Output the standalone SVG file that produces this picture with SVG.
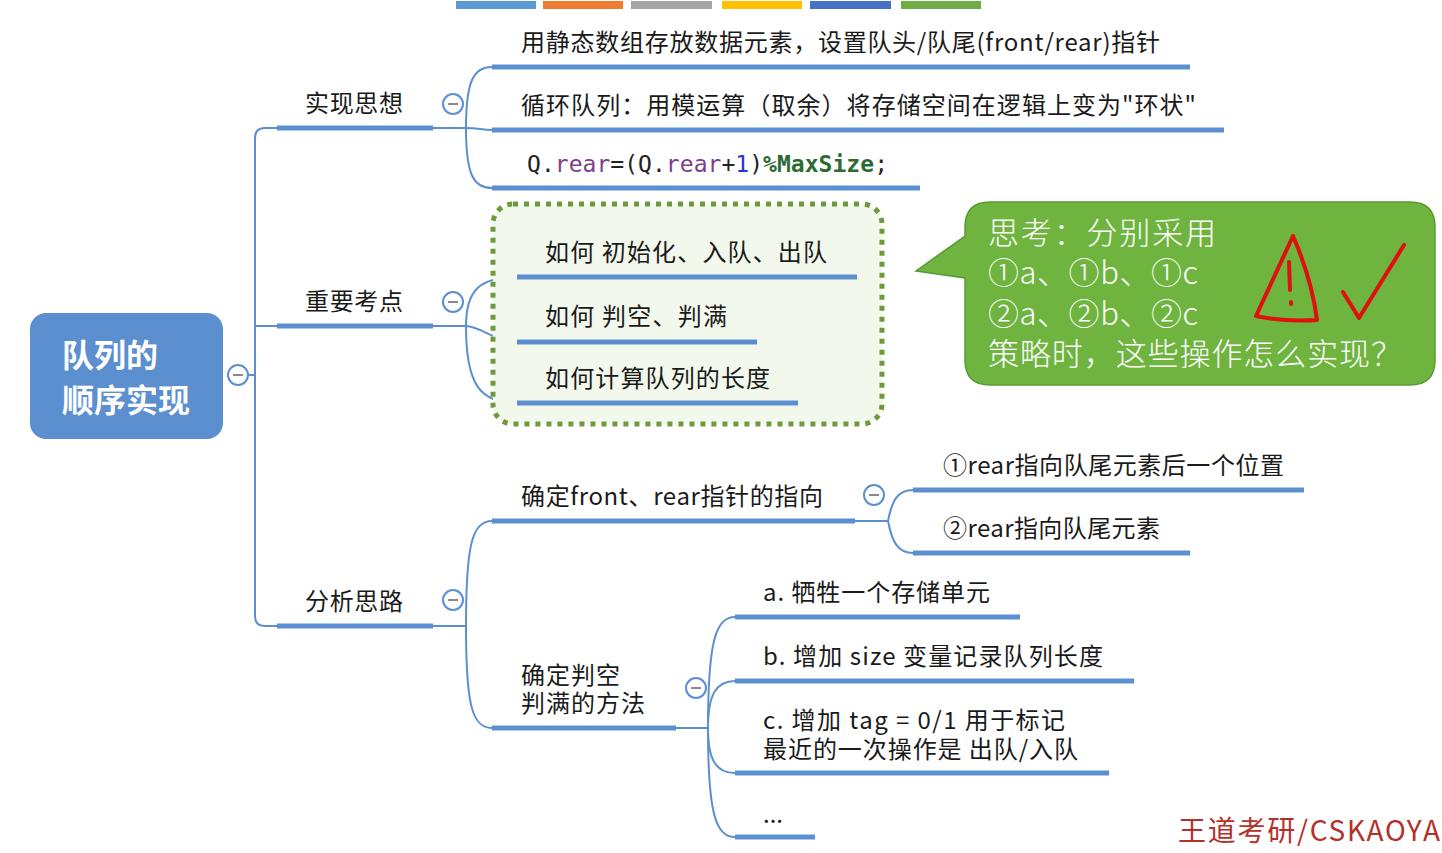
<svg xmlns="http://www.w3.org/2000/svg" width="1442" height="853" viewBox="0 0 1442 853">
<style>
.t{font-family:"Noto Sans CJK SC","Noto Sans",sans-serif;font-size:24px;fill:#1a1a1a}
.code{font-family:"DejaVu Sans Mono","Liberation Mono",monospace;font-size:23px;fill:#222}
.ul{stroke:#5b8fd0;stroke-width:5;fill:none}
.cn{stroke:#5b8fd0;stroke-width:2;fill:none}
.col circle{fill:#fff;stroke:#5b8fd0;stroke-width:2}
.col line{stroke:#8a8a8a;stroke-width:2}
.cal{font-family:"Noto Sans CJK SC","Noto Sans",sans-serif;font-size:31px;fill:#fff;font-weight:300}
.red{stroke:#e0100f;stroke-width:4;fill:none;stroke-linecap:round;stroke-linejoin:round}
</style>
<rect width="1442" height="853" fill="#fff"/>
<g id="tabs">
<rect x="456" y="1" width="80" height="8" fill="#5b9bd5"/>
<rect x="543" y="1" width="80" height="8" fill="#ed7d31"/>
<rect x="631" y="1" width="81" height="8" fill="#a5a5a5"/>
<rect x="722" y="1" width="80" height="8" fill="#ffc000"/>
<rect x="810" y="1" width="81" height="8" fill="#4472c4"/>
<rect x="901" y="1" width="80" height="8" fill="#70ad47"/>
</g>
<g id="connectors">
<path class="cn" d="M248,375 H255"/>
<path class="cn" d="M277,128 H265 Q255,128 255,138 V616 Q255,626 265,626 H277"/>
<path class="cn" d="M255,326 H277"/>
<path class="cn" d="M433,128 H466"/>
<path class="cn" d="M466,128 C466,80 474,67 492,67"/>
<path class="cn" d="M466,128 C478,128 482,130 492,130"/>
<path class="cn" d="M466,128 C466,176 474,188 492,188"/>
<path class="cn" d="M433,326 H466"/>
<path class="cn" d="M466,326 C466,290 480,277 517,277"/>
<path class="cn" d="M466,326 C480,326 495,342 517,342"/>
<path class="cn" d="M466,326 C466,385 480,403 517,403"/>
<path class="cn" d="M433,626 H466"/>
<path class="cn" d="M466,626 C466,545 472,521 492,521"/>
<path class="cn" d="M466,626 C466,705 472,728 492,728"/>
<path class="cn" d="M855,521 H888"/>
<path class="cn" d="M888,521 C892,500 898,490 913,490"/>
<path class="cn" d="M888,521 C892,542 898,553 913,553"/>
<path class="cn" d="M676,728 H708"/>
<path class="cn" d="M708,728 C708,640 716,617 735,617"/>
<path class="cn" d="M708,728 C708,695 716,681 735,681"/>
<path class="cn" d="M708,728 C708,760 716,773 735,773"/>
<path class="cn" d="M708,728 C708,815 716,837 735,837"/>
</g>
<g id="root">
<rect x="30" y="313" width="193" height="126" rx="16" fill="#5b8fd0"/>
<text font-family="Noto Sans CJK SC,sans-serif" font-size="32" font-weight="bold" fill="#fff"><tspan x="62" y="367">队列的</tspan><tspan x="62" y="412">顺序实现</tspan></text>
<g class="col"><circle cx="238" cy="375" r="10"/><line x1="233" y1="375" x2="243" y2="375"/></g>
</g>
<g id="n-shixian">
<line class="ul" x1="277" y1="128" x2="433" y2="128"/>
<text class="t" x="305" y="112" textLength="98">实现思想</text>
<g class="col"><circle cx="453" cy="104" r="10"/><line x1="448" y1="104" x2="458" y2="104"/></g>
</g>
<g id="n-s1">
<line class="ul" x1="492" y1="67" x2="1190" y2="67"/>
<text class="t" x="521" y="51" textLength="639">用静态数组存放数据元素，设置队头/队尾(front/rear)指针</text>
</g>
<g id="n-s2">
<line class="ul" x1="492" y1="130" x2="1224" y2="130"/>
<text class="t" x="521" y="114" textLength="675">循环队列：用模运算（取余）将存储空间在逻辑上变为"环状"</text>
</g>
<g id="n-s3">
<line class="ul" x1="492" y1="188" x2="920" y2="188"/>
<text class="code" x="527" y="172" textLength="361">Q.<tspan fill="#7b3f8c">rear</tspan>=(Q.<tspan fill="#7b3f8c">rear</tspan>+<tspan fill="#2b35d6">1</tspan>)<tspan fill="#2d6b35" font-weight="bold">%MaxSize</tspan>;</text>
</g>
<g id="box">
<rect x="493" y="204" width="389" height="220" rx="20" fill="#f3f8ec" stroke="#6f9a3c" stroke-width="5" stroke-dasharray="5 6"/>
</g>
<g id="n-zhongyao">
<line class="ul" x1="277" y1="326" x2="433" y2="326"/>
<text class="t" x="305" y="310" textLength="98">重要考点</text>
<g class="col"><circle cx="453" cy="302" r="10"/><line x1="448" y1="302" x2="458" y2="302"/></g>
</g>
<g id="n-z1">
<line class="ul" x1="517" y1="277" x2="857" y2="277"/>
<text class="t" x="545" y="261" textLength="282">如何 初始化、入队、出队</text>
</g>
<g id="n-z2">
<line class="ul" x1="517" y1="342" x2="757" y2="342"/>
<text class="t" x="545" y="325" textLength="182">如何 判空、判满</text>
</g>
<g id="n-z3">
<line class="ul" x1="517" y1="403" x2="798" y2="403"/>
<text class="t" x="545" y="387" textLength="225">如何计算队列的长度</text>
</g>
<g id="callout">
<path d="M990,202 H1410 Q1435,202 1435,227 V360 Q1435,385 1410,385 H990 Q965,385 965,360 V278 L916,271 L965,236 V227 Q965,202 990,202 Z" fill="#6fb43f" stroke="#5a9a33" stroke-width="1.5"/>
<text class="cal"><tspan x="988" y="244" textLength="228">思考：分别采用</tspan><tspan x="988" y="284" textLength="210">①a、①b、①c</tspan><tspan x="988" y="325" textLength="210">②a、②b、②c</tspan><tspan x="988" y="365" textLength="414">策略时，这些操作怎么实现？</tspan></text>
<path class="red" d="M1293,236 Q1275,275 1256,316 Q1285,322 1317,320 Q1312,280 1293,236"/>
<path class="red" d="M1289,262 L1290,290"/>
<path class="red" d="M1291,302 L1291,304"/>
<path class="red" d="M1343,292 L1359,318 L1404,245"/>
</g>
<g id="n-fenxi">
<line class="ul" x1="277" y1="626" x2="433" y2="626"/>
<text class="t" x="305" y="610" textLength="98">分析思路</text>
<g class="col"><circle cx="453" cy="600" r="10"/><line x1="448" y1="600" x2="458" y2="600"/></g>
</g>
<g id="n-f1">
<line class="ul" x1="492" y1="521" x2="855" y2="521"/>
<text class="t" x="521" y="505" textLength="302">确定front、rear指针的指向</text>
<g class="col"><circle cx="874" cy="495" r="10"/><line x1="869" y1="495" x2="879" y2="495"/></g>
</g>
<g id="n-f1a">
<line class="ul" x1="913" y1="490" x2="1304" y2="490"/>
<text class="t" x="943" y="474" textLength="341">①rear指向队尾元素后一个位置</text>
</g>
<g id="n-f1b">
<line class="ul" x1="913" y1="553" x2="1190" y2="553"/>
<text class="t" x="943" y="537" textLength="217">②rear指向队尾元素</text>
</g>
<g id="n-f2">
<line class="ul" x1="492" y1="728" x2="676" y2="728"/>
<text class="t"><tspan x="521" y="684" textLength="99">确定判空</tspan><tspan x="521" y="712" textLength="124">判满的方法</tspan></text>
<g class="col"><circle cx="696" cy="688" r="10"/><line x1="691" y1="688" x2="701" y2="688"/></g>
</g>
<g id="n-f2a">
<line class="ul" x1="735" y1="617" x2="1020" y2="617"/>
<text class="t" x="763" y="601" textLength="227">a. 牺牲一个存储单元</text>
</g>
<g id="n-f2b">
<line class="ul" x1="735" y1="681" x2="1134" y2="681"/>
<text class="t" x="763" y="665" textLength="340">b. 增加 size 变量记录队列长度</text>
</g>
<g id="n-f2c">
<line class="ul" x1="735" y1="773" x2="1109" y2="773"/>
<text class="t"><tspan x="763" y="729" textLength="302">c. 增加 tag = 0/1 用于标记</tspan><tspan x="763" y="758" textLength="315">最近的一次操作是 出队/入队</tspan></text>
</g>
<g id="n-f2d">
<line class="ul" x1="735" y1="837" x2="815" y2="837"/>
<text class="t" x="763" y="823">...</text>
</g>
<text x="1178" y="841" font-family="Noto Sans CJK SC,sans-serif" font-size="28" fill="#b3302b" textLength="262">王道考研/CSKAOYA</text>
</svg>
